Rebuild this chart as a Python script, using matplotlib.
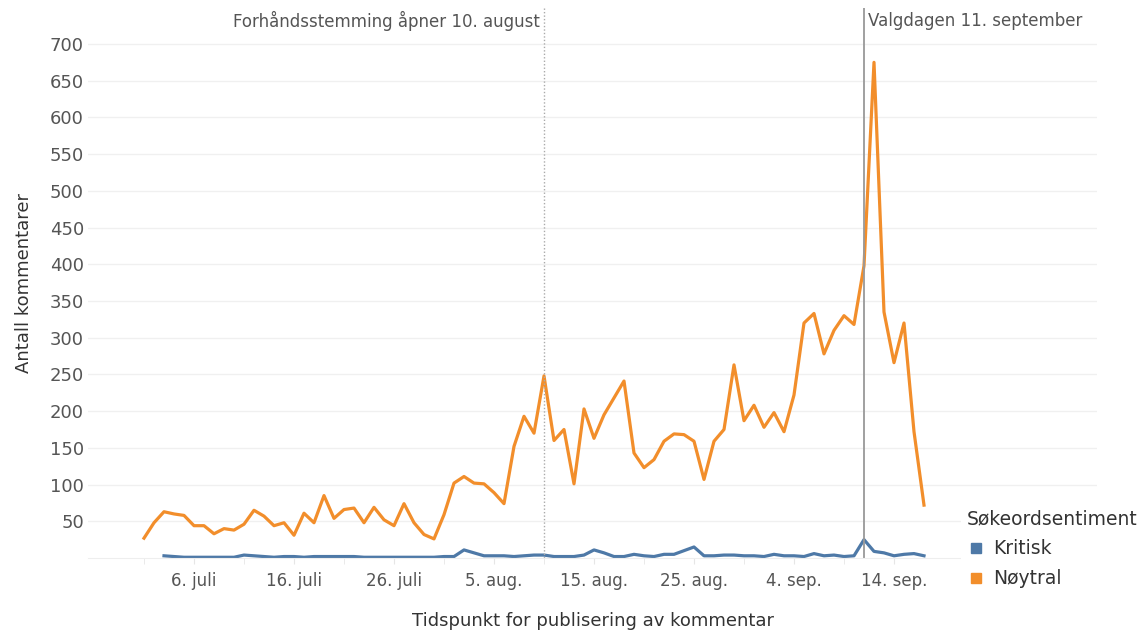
import numpy as np
import pandas as pd
import matplotlib.pyplot as plt
from matplotlib.lines import Line2D

plt.rcParams['font.family'] = ['DejaVu Sans']

# daily comment counts, orange series starts 1 July 2023, blue series 3 July 2023
noytral = [27, 48, 63, 60, 58, 44, 44, 33, 40, 38,
           46, 65, 57, 44, 48, 31, 61, 48, 85, 54,
           66, 68, 48, 69, 52, 44, 74, 48, 32, 26,
           59, 102, 111, 102, 101, 89, 74, 152, 193, 170,
           248, 160, 175, 101, 203, 163, 195, 218, 241, 143,
           123, 134, 159, 169, 168, 159, 107, 159, 175, 263,
           187, 208, 178, 198, 172, 222, 320, 333, 278, 310,
           330, 318, 398, 675, 335, 266, 320, 172, 72]
kritisk = [3, 2, 1, 1, 1, 1, 1, 1, 4, 3,
           2, 1, 2, 2, 1, 2, 2, 2, 2, 2,
           1, 1, 1, 1, 1, 1, 1, 1, 2, 2,
           11, 7, 3, 3, 3, 2, 3, 4, 4, 2,
           2, 2, 4, 11, 7, 2, 2, 5, 3, 2,
           5, 5, 10, 15, 3, 3, 4, 4, 3, 3,
           2, 5, 3, 3, 2, 6, 3, 4, 2, 3,
           25, 9, 7, 3, 5, 6, 3]
dates_noytral = pd.date_range('2023-07-01', periods=len(noytral), freq='D')
dates_kritisk = pd.date_range('2023-07-03', periods=len(kritisk), freq='D')

forhand = pd.Timestamp('2023-08-10')
valgdag = pd.Timestamp('2023-09-11')

months = {7: 'juli', 8: 'aug.', 9: 'sep.'}
blue = '#4e79a7'
orange = '#f28e2b'
grey_text = '#555555'

fig = plt.figure(figsize=(11.41, 6.3), dpi=100)
ax = fig.add_axes([88 / 1141, 1 - 558 / 630, (1097 - 88) / 1141, 550 / 630])

ax.plot(dates_kritisk, kritisk, color=blue, lw=2.3, solid_joinstyle='round')
ax.plot(dates_noytral, noytral, color=orange, lw=2.3, solid_joinstyle='round')

ax.axvline(forhand, color='#aaaaaa', lw=1, ls=(0, (1, 1.5)))
ax.axvline(valgdag, color='#999999', lw=1.3)

ax.set_ylim(0, 749)
ax.set_yticks(np.arange(50, 701, 50))
ax.set_xlim(pd.Timestamp('2023-07-01') - pd.Timedelta(days=5.6),
            pd.Timestamp('2023-07-01') + pd.Timedelta(days=95.3))

ticks = pd.date_range('2023-07-06', periods=8, freq='10D')
ax.set_xticks(ticks)
ax.set_xticklabels([f'{d.day}. {months[d.month]}' for d in ticks])
ax.set_xticks(pd.date_range('2023-07-01', periods=16, freq='5D'), minor=True)

ax.grid(axis='y', color='#f0f0f0', lw=1)
ax.set_axisbelow(True)
for s in ['top', 'right', 'left']:
    ax.spines[s].set_visible(False)
ax.spines['bottom'].set_color('#eeeeee')

ax.tick_params(axis='y', length=0, pad=3, labelsize=13, labelcolor=grey_text)
ax.tick_params(axis='x', which='both', length=4, color='#e6e6e6', pad=6,
               labelsize=12, labelcolor=grey_text)

ax.set_xlabel('Tidspunkt for publisering av kommentar', fontsize=13,
              color='#333333', labelpad=16)
ax.set_ylabel('Antall kommentarer', fontsize=13, color='#333333', labelpad=12)

ax.text(forhand - pd.Timedelta(days=0.4), 731, 'Forhåndsstemming åpner 10. august',
        ha='right', va='center', fontsize=12, color=grey_text)
ax.text(valgdag + pd.Timedelta(days=0.4), 731, 'Valgdagen 11. september',
        ha='left', va='center', fontsize=12, color=grey_text)

handles = [Line2D([], [], marker='s', ls='none', markersize=7.5, color=blue),
           Line2D([], [], marker='s', ls='none', markersize=7.5, color=orange)]
leg = fig.legend(handles, ['Kritisk', 'Nøytral'], title='Søkeordsentiment',
                 loc='upper left', bbox_to_anchor=(952 / 1141, 1 - 494 / 630),
                 frameon=True, fontsize=13.5, title_fontsize=13.5,
                 handletextpad=0.4, labelspacing=0.6, borderpad=0.3,
                 handlelength=1.0, alignment='left')
leg.get_frame().set_edgecolor('none')
leg.get_frame().set_facecolor('white')
leg.get_frame().set_alpha(1)
leg.get_title().set_color('#333333')
for t in leg.get_texts():
    t.set_color('#333333')

fig.savefig('out.png', dpi=100)
